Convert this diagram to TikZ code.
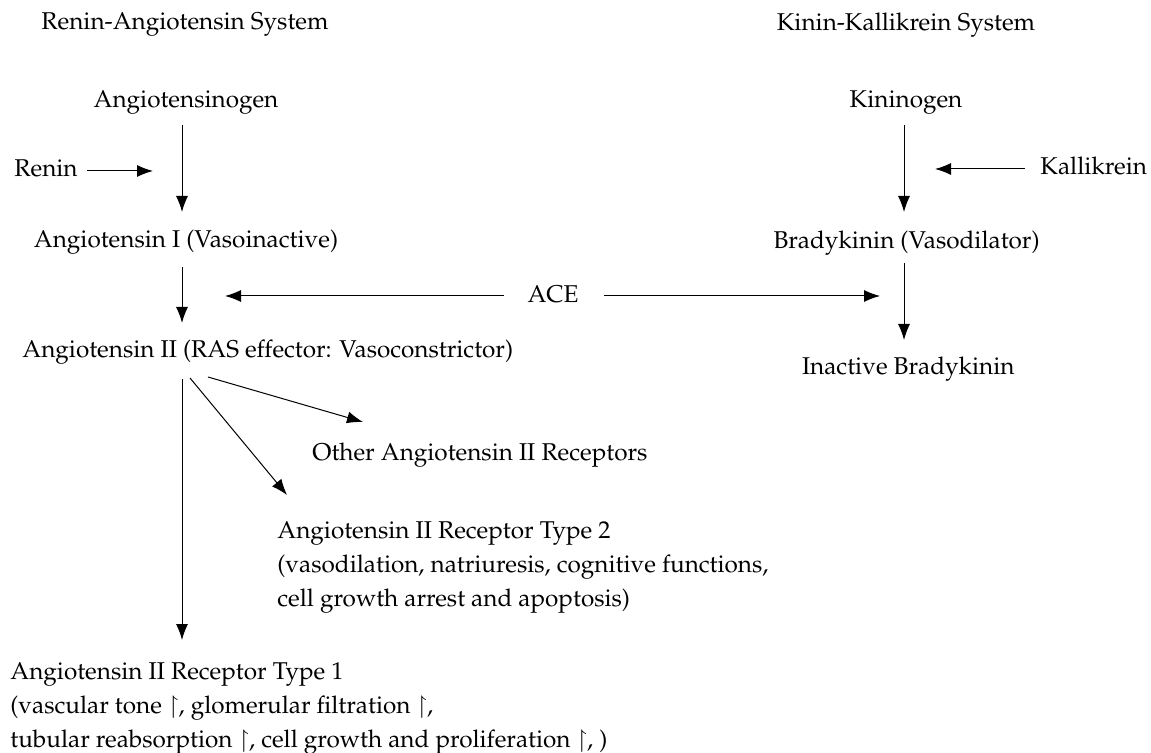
\documentclass[tikz,border=0pt]{standalone}
\usepackage[T1]{fontenc}
\usepackage{mathpazo}
\usepackage{amssymb}
\usetikzlibrary{arrows.meta}
\tikzset{
  lbl/.style={inner sep=0pt, anchor=base},
  lblw/.style={inner sep=0pt, anchor=base west},
  lble/.style={inner sep=0pt, anchor=base east},
  para/.style={inner sep=0pt, align=left, anchor=base west},
  arr/.style={-{Latex[length=8pt,width=6pt]}, line width=0.5pt}
}
\newcommand{\upmark}{$\upharpoonright$}
\begin{document}
\begin{tikzpicture}[x=0.5pt,y=-0.5pt,font=\fontsize{12.15}{17}\selectfont]
  \useasboundingbox (0,0) rectangle (1151,753);
  % the base of a paragraph node is the baseline of its last line
  \draw
    (185,30) node[lbl] (rastitle){Renin-Angiotensin System}
    (906,31) node[lbl] (kkstitle){Kinin-Kallikrein System}
    (186,108) node[lbl] (ogen){Angiotensinogen}
    (14,177) node[lblw] (renin){Renin}
    (186,248) node[lbl] (ang1){Angiotensin I (Vasoinactive)}
    (22,358) node[lblw] (ang2){Angiotensin II (RAS effector: Vasoconstrictor)}
    (553,303) node[lbl] (ace){ACE}
    (906,108) node[lbl] (kgen){Kininogen}
    (1040,175) node[lblw] (kall){Kallikrein}
    (1040,249) node[lble] (brady){Bradykinin (Vasodilator)}
    (1015,375) node[lble] (inact){Inactive Bradykinin}
    (312,460) node[lblw] (other){Other Angiotensin II Receptors}
    (277,606) node[para] (at2){Angiotensin II Receptor Type 2\\
      (vasodilation, natriuresis, cognitive functions,\\
      cell growth arrest and apoptosis)}
    (10,747) node[para] (at1){Angiotensin II Receptor Type 1\\
      (vascular tone \upmark, glomerular filtration \upmark,\\
      tubular reabsorption \upmark, cell growth and proliferation \upmark, )};
  \coordinate (lcol) at (182,0);
  \coordinate (rcol) at (904,0);
  \coordinate (fork) at (ang2.base -| lcol);
  \coordinate (reninend) at (153,171);
  \coordinate (kallend) at (935,169);
  \coordinate (aceleft) at (225,296);
  \coordinate (aceright) at (880,296);
  \begin{scope}[arr]
    \draw[shorten <=8.5pt, shorten >=18pt] (ogen.base -| lcol) to (ang1.base -| lcol);
    \draw[shorten <=9.5pt, shorten >=17.5pt] (ang1.base -| lcol) to (ang2.base -| lcol);
    \draw[shorten <=4.5pt] ([yshift=3pt]renin.base east) to (reninend);
    \draw[shorten <=8.5pt, shorten >=18.5pt] (kgen.base -| rcol) to (brady.base -| rcol);
    \draw[shorten <=7pt, shorten >=17.5pt] (brady.base -| rcol) to (inact.base -| rcol);
    \draw[shorten <=7.5pt] ([yshift=3pt]kall.base west) to (kallend);
    \draw[shorten <=11.5pt] ([yshift=3.5pt]ace.base west) to (aceleft);
    \draw[shorten <=12.5pt] ([yshift=3.5pt]ace.base east) to (aceright);
    \draw[shorten <=10.5pt, shorten >=53.5pt] (fork) to (at1.base west -| lcol);
    \draw ([xshift=4pt,yshift=-10pt]fork) to ([xshift=5pt,yshift=55.5pt]at2.base west);
    \draw ([xshift=13pt,yshift=-9.5pt]fork) to ([xshift=25.5pt,yshift=19pt]other.base west);
  \end{scope}
\end{tikzpicture}
\end{document}
